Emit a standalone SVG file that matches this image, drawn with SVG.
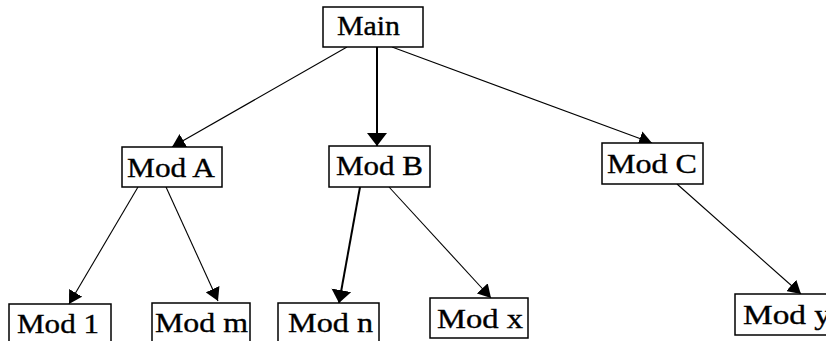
<svg xmlns="http://www.w3.org/2000/svg" width="826" height="341" viewBox="0 0 826 341">
<style>
.box{fill:#fff;stroke:#000;stroke-width:1.5}
.lbl{font-family:"Liberation Serif","Times New Roman",serif;font-size:27px;fill:#000;stroke:#000;stroke-width:0.35}
.edge{stroke:#000;stroke-width:1.1;fill:none;marker-end:url(#ah)}
.edge.thick{stroke-width:2;marker-end:url(#ahb)}
</style>
<defs>
<marker id="ah" viewBox="0 0 13 15" refX="13" refY="7.5" markerWidth="13" markerHeight="15" orient="auto" markerUnits="userSpaceOnUse">
<path d="M0,0 L13,7.5 L0,15 z" fill="#000"/>
</marker>
<marker id="ahb" viewBox="0 0 13 20" refX="13" refY="10" markerWidth="13" markerHeight="20" orient="auto" markerUnits="userSpaceOnUse">
<path d="M0,0 L13,10 L0,20 z" fill="#000"/>
</marker>
</defs>
<rect width="826" height="341" fill="#fff"/>
<g id="connectors">
<line class="edge" x1="347" y1="47" x2="172" y2="147"/>
<line class="edge thick" x1="377" y1="47" x2="377" y2="146"/>
<line class="edge" x1="392" y1="47" x2="652" y2="143"/>
<line class="edge" x1="138" y1="187" x2="69" y2="304"/>
<line class="edge" x1="166" y1="187" x2="218" y2="301"/>
<line class="edge thick" x1="360" y1="187" x2="339" y2="303"/>
<line class="edge" x1="389" y1="187" x2="491" y2="298"/>
<line class="edge" x1="677" y1="184" x2="801" y2="294"/>
</g>
<g id="main"><rect class="box" x="323" y="7" width="100" height="40"/><text class="lbl" x="337" y="35" textLength="63" lengthAdjust="spacingAndGlyphs">Main</text></g>
<g id="modA"><rect class="box" x="122" y="147" width="100" height="40"/><text class="lbl" x="127" y="177" textLength="88" lengthAdjust="spacingAndGlyphs">Mod A</text></g>
<g id="modB"><rect class="box" x="329" y="146" width="101" height="41"/><text class="lbl" x="336" y="175" textLength="87" lengthAdjust="spacingAndGlyphs">Mod B</text></g>
<g id="modC"><rect class="box" x="602" y="143" width="101" height="41"/><text class="lbl" x="607" y="173" textLength="90" lengthAdjust="spacingAndGlyphs">Mod C</text></g>
<g id="mod1"><rect class="box" x="9" y="304" width="102" height="50"/><text class="lbl" x="17" y="333" textLength="82" lengthAdjust="spacingAndGlyphs">Mod 1</text></g>
<g id="modm"><rect class="box" x="152" y="303" width="98" height="50"/><text class="lbl" x="155" y="332" textLength="93" lengthAdjust="spacingAndGlyphs">Mod m</text></g>
<g id="modn"><rect class="box" x="278" y="303" width="101" height="50"/><text class="lbl" x="288" y="332" textLength="85" lengthAdjust="spacingAndGlyphs">Mod n</text></g>
<g id="modx"><rect class="box" x="430" y="298" width="98" height="40"/><text class="lbl" x="437" y="328" textLength="86" lengthAdjust="spacingAndGlyphs">Mod x</text></g>
<g id="mody"><rect class="box" x="735" y="294" width="100" height="41"/><text class="lbl" x="743" y="324" textLength="88" lengthAdjust="spacingAndGlyphs">Mod y</text></g>
</svg>
